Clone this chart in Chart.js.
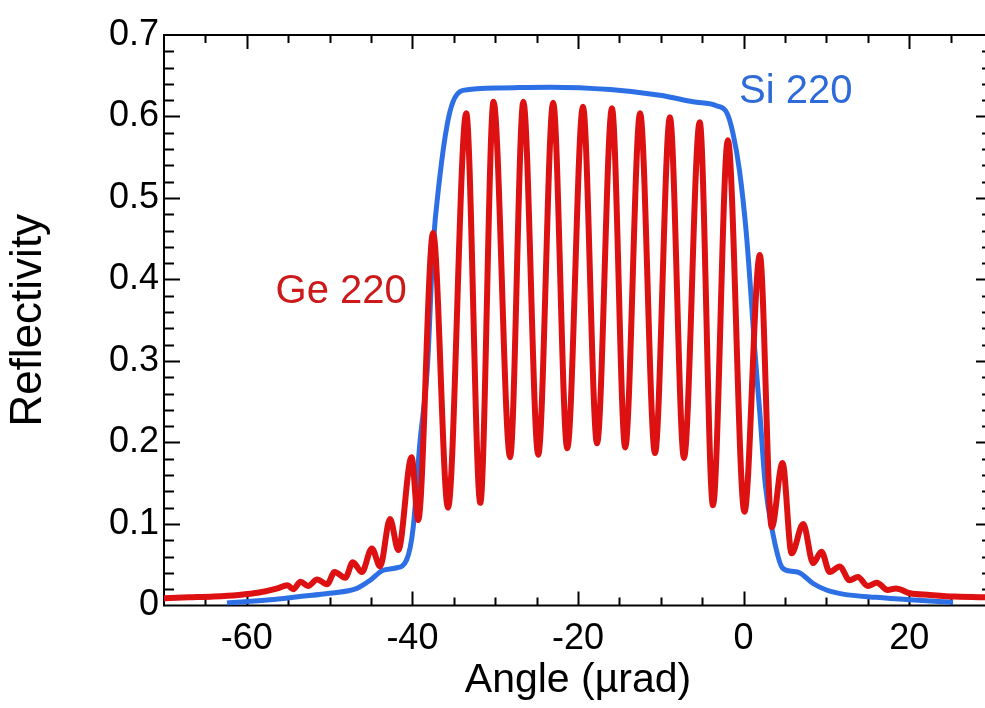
<!DOCTYPE html>
<html>
<head>
<meta charset="utf-8">
<title>Ge 220 / Si 220 reflectivity</title>
<script src="https://cdn.jsdelivr.net/npm/chart.js@4.4.1/dist/chart.umd.min.js"></script>
<style>
  html, body { margin: 0; padding: 0; background: #fff; overflow: hidden; }
  #wrap { width: 1000px; height: 708px; }
</style>
</head>
<body>
<div id="wrap"><canvas id="refl" width="1000" height="708"></canvas></div>
<script>
// values: angle in µrad, reflectivity
const geAngle = [-70, -67, -64, -61, -58.5, -56.3, -55.1, -54.4, -53.5, -52.6, -51.5, -50.3, -49.4, -48.1,
  -47.2, -46.1, -44.9, -43.9, -42.7, -41.7, -40.1, -39.3, -37.5, -35.7, -33.5, -31.8, -30.2, -28.2,
  -26.6, -24.8, -23.0, -21.3, -19.4, -17.7, -15.9, -14.3, -12.5, -10.7, -8.9, -7.2, -5.3, -3.7,
  -1.9, 0.1, 1.96, 3.4, 4.7, 5.8, 7.2, 8.4, 9.4, 10.4, 11.6, 12.8, 13.8, 15.0, 16.1, 17.4, 18.4,
  20.1, 22.5, 25.5, 30];
const geRefl = [0.009, 0.010, 0.011, 0.013, 0.016, 0.021, 0.025, 0.020, 0.029, 0.024, 0.032, 0.026, 0.041, 0.034,
  0.053, 0.041, 0.070, 0.048, 0.106, 0.068, 0.182, 0.105, 0.457, 0.120, 0.604, 0.126, 0.618, 0.182,
  0.618, 0.185, 0.617, 0.193, 0.612, 0.199, 0.610, 0.194, 0.604, 0.187, 0.599, 0.181, 0.593, 0.123,
  0.571, 0.115, 0.430, 0.096, 0.175, 0.064, 0.100, 0.052, 0.066, 0.041, 0.048, 0.031, 0.035, 0.024, 0.028, 0.019, 0.021,
  0.015, 0.013, 0.011, 0.010];

const siAngle = [-62.4, -57.2, -53.6, -50.0, -46.7, -45.1, -43.6, -42.0, -40.7, -39.9, -39.1, -38.2, -37.5,
  -36.7, -35.8, -35.1, -33.9, -29.4, -23.4, -16.1, -10.1, -6.1, -3.2, -2.0, -1.3, -0.5, 0.3, 0.9,
  1.3, 2.0, 2.6, 3.6, 4.7, 5.8, 6.8, 8.4, 10.0, 12.0, 16.0, 20.1, 25.3];
const siRefl = [0.003, 0.007, 0.011, 0.015, 0.021, 0.031, 0.043, 0.046, 0.056, 0.096, 0.199, 0.290, 0.440,
  0.525, 0.590, 0.618, 0.632, 0.635, 0.636, 0.633, 0.626, 0.618, 0.613, 0.604, 0.580, 0.534, 0.460, 0.380,
  0.320, 0.231, 0.150, 0.085, 0.046, 0.042, 0.040, 0.027, 0.019, 0.014, 0.010, 0.007, 0.004];

const seriesNames = ['Ge 220', 'Si 220'];
const xTickLabels = [-60, -40, -20, 0, 20];
const yTickLabels = [0, 0.1, 0.2, 0.3, 0.4, 0.5, 0.6, 0.7];

const RED = '#dd1111';
const BLUE = '#2d6fe4';
const FONT = '"Liberation Sans", Arial, Helvetica, sans-serif';

const toPoints = (xs, ys) => xs.map((v, i) => ({ x: v, y: ys[i] }));

// box round the plot with inward ticks on every side
const frameTicks = {
  id: 'frameTicks',
  beforeDatasetsDraw(chart) {
    const { ctx, chartArea: a, scales: { x, y } } = chart;
    ctx.save();
    ctx.strokeStyle = '#000';
    ctx.lineWidth = 2;
    ctx.strokeRect(a.left, a.top, a.right - a.left, a.bottom - a.top);
    ctx.beginPath();
    for (let v = -65; v <= 25; v += 5) {
      const px = Math.round(x.getPixelForValue(v)) + 0.5;
      const len = v % 20 === 0 ? 14 : 8;
      ctx.moveTo(px, a.bottom); ctx.lineTo(px, a.bottom - len);
      ctx.moveTo(px, a.top); ctx.lineTo(px, a.top + len);
    }
    for (let i = 1; i < 35; i++) {
      const py = Math.round(y.getPixelForValue(i * 0.02)) + 0.5;
      const len = i % 5 === 0 ? 16 : 10;
      ctx.moveTo(a.left, py); ctx.lineTo(a.left + len, py);
      ctx.moveTo(a.right, py); ctx.lineTo(a.right - len, py);
    }
    ctx.stroke();
    ctx.restore();
  }
};

// curve names written next to the curves
const curveNames = {
  id: 'curveNames',
  afterDatasetsDraw(chart, args, opts) {
    const { ctx, scales: { x, y } } = chart;
    ctx.save();
    ctx.font = '40px ' + FONT;
    ctx.textAlign = 'center';
    ctx.textBaseline = 'middle';
    opts.items.forEach(it => {
      ctx.fillStyle = it.color;
      ctx.fillText(it.text, x.getPixelForValue(it.at[0]), y.getPixelForValue(it.at[1]));
    });
    ctx.restore();
  }
};

new Chart(document.getElementById('refl'), {
  type: 'line',
  data: {
    datasets: [
      {
        label: seriesNames[0],
        data: toPoints(geAngle, geRefl),
        borderColor: RED,
        borderWidth: 6,
        pointRadius: 0,
        cubicInterpolationMode: 'monotone'
      },
      {
        label: seriesNames[1],
        data: toPoints(siAngle, siRefl),
        borderColor: BLUE,
        borderWidth: 5,
        pointRadius: 0,
        cubicInterpolationMode: 'monotone'
      }
    ]
  },
  options: {
    responsive: false,
    animation: false,
    layout: { padding: { top: 35, right: 8, left: 0, bottom: 0 } },
    plugins: {
      legend: { display: false },
      tooltip: { enabled: false },
      curveNames: {
        items: [
          { text: seriesNames[0], color: '#cc1a1a', at: [-48.6, 0.385] },
          { text: seriesNames[1], color: '#2f6bd8', at: [6.3, 0.63] }
        ]
      }
    },
    scales: {
      x: {
        type: 'linear',
        min: -70,
        max: 30,
        afterBuildTicks: s => { s.ticks = xTickLabels.map(v => ({ value: v })); },
        afterFit: s => { s.height = 102.5; },
        grid: { display: false, drawTicks: false },
        border: { display: false },
        ticks: { color: '#000', font: { family: FONT, size: 36 }, padding: 12, maxRotation: 0 },
        title: { display: true, text: 'Angle (µrad)', color: '#000', font: { family: FONT, size: 41 }, padding: { top: 0, bottom: 3 } }
      },
      y: {
        type: 'linear',
        min: 0,
        max: 0.7,
        afterBuildTicks: s => { s.ticks = yTickLabels.map(v => ({ value: v })); },
        afterFit: s => { s.width = 164; },
        grid: { display: false, drawTicks: false },
        border: { display: false },
        ticks: {
          color: '#000',
          font: { family: FONT, size: 36 },
          padding: 5,
          callback: v => (v === 0 ? '0' : v.toFixed(1))
        },
        title: { display: true, text: 'Reflectivity', color: '#000', font: { family: FONT, size: 44 }, padding: { top: 2, bottom: 0 } }
      }
    }
  },
  plugins: [frameTicks, curveNames]
});
</script>
</body>
</html>
